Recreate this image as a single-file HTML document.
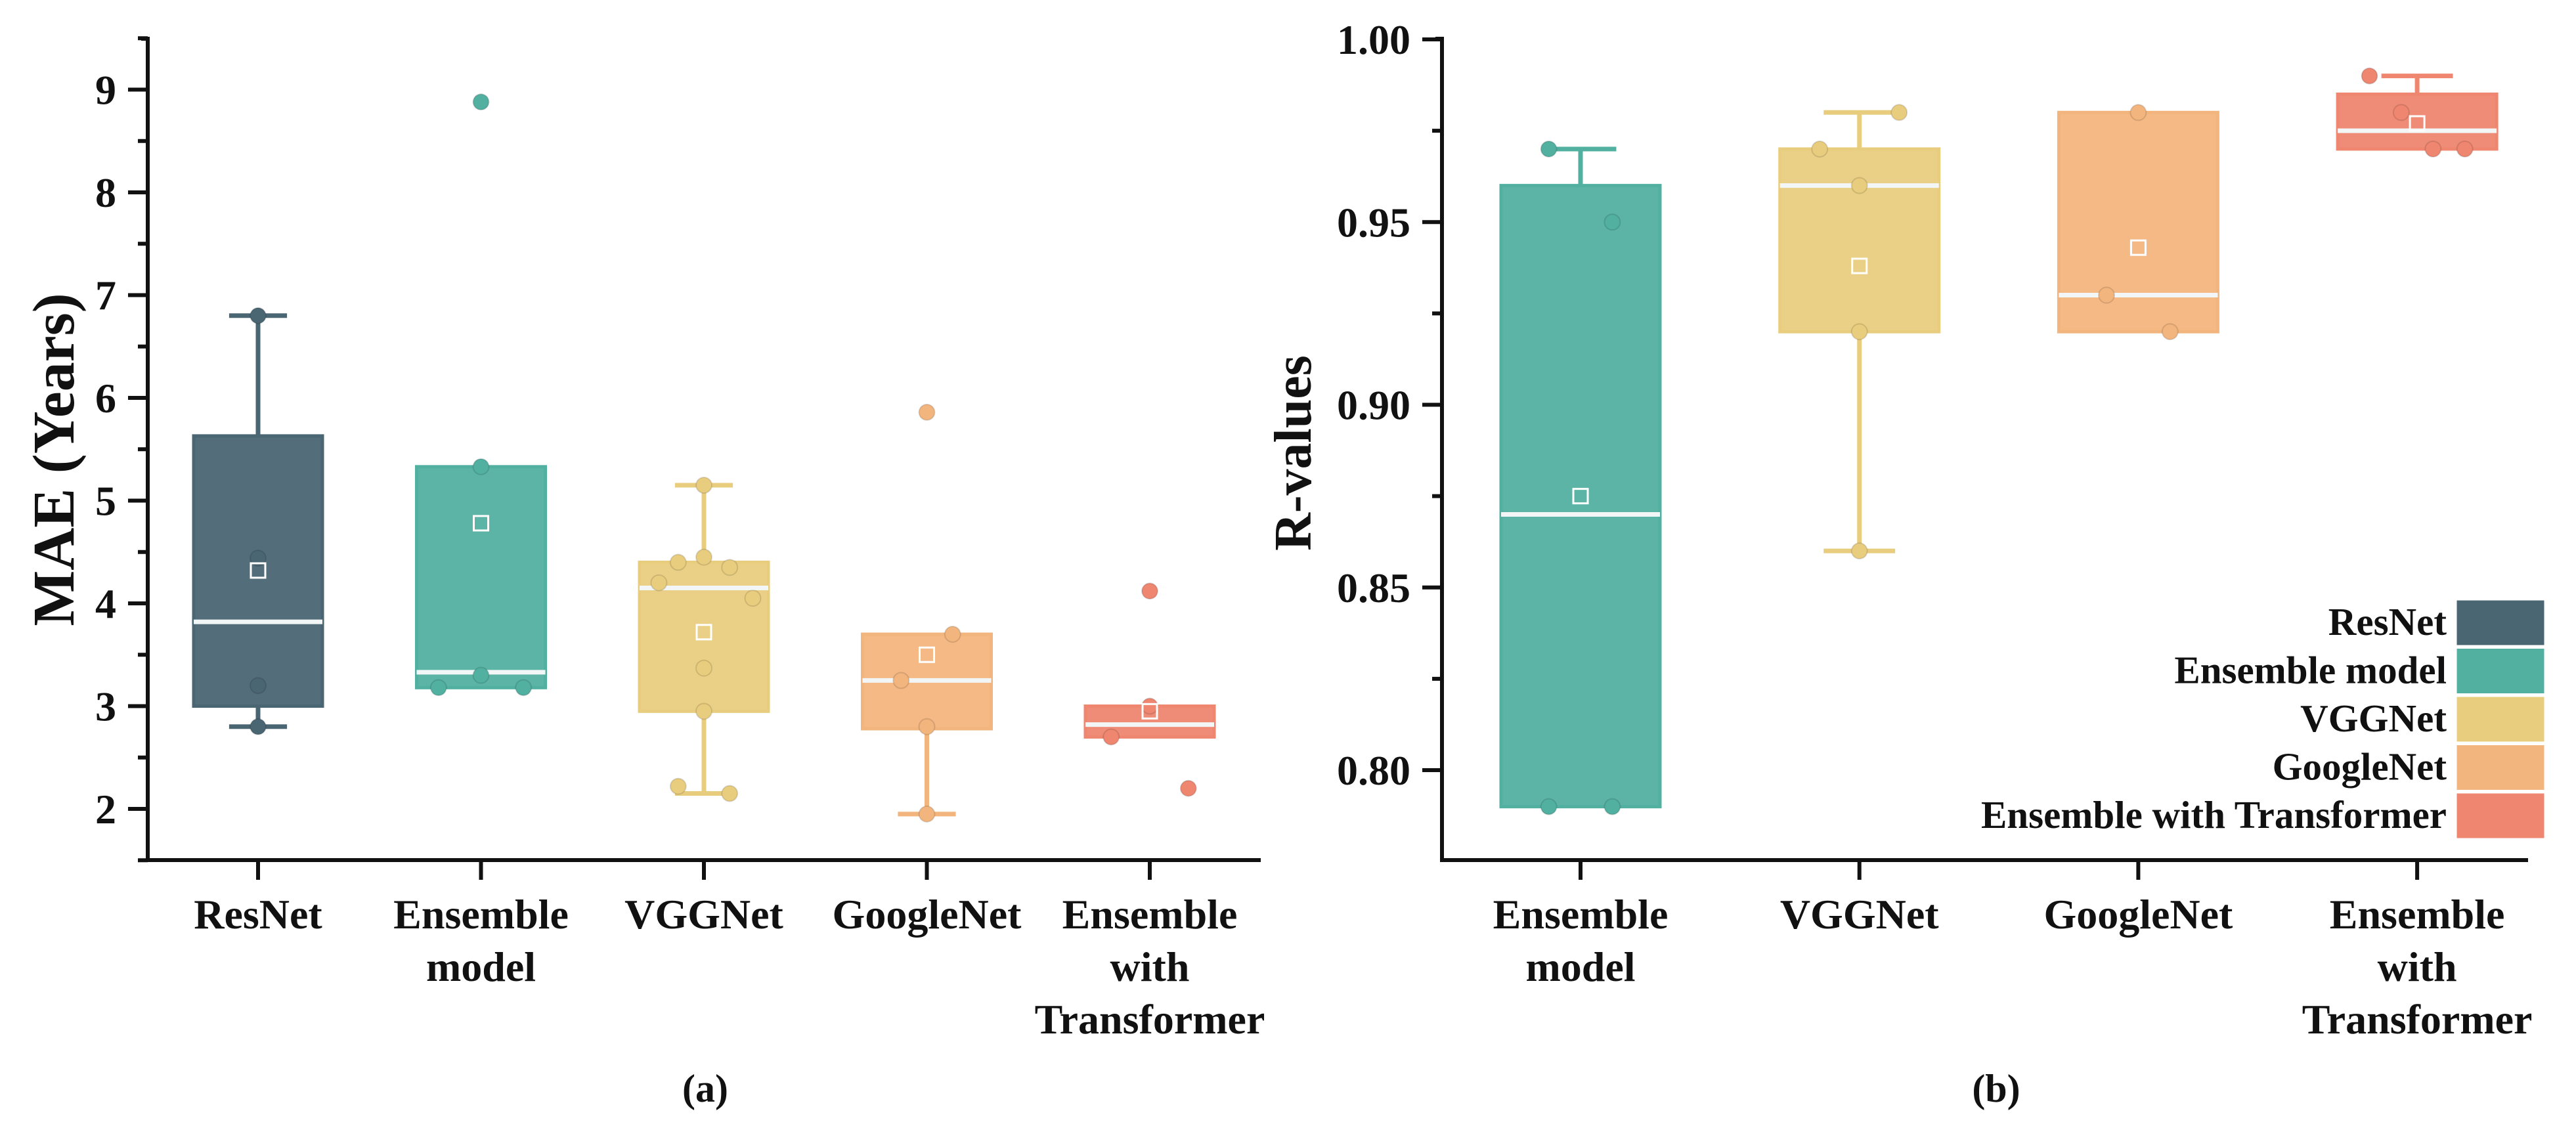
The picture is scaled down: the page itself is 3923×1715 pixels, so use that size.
<!DOCTYPE html>
<html><head><meta charset="utf-8"><style>
html,body{margin:0;padding:0;background:#fff;}
svg{display:block;}
text{font-family:"Liberation Serif",serif;font-weight:bold;fill:#111;}
</style></head><body>
<svg id="fig" width="3923" height="1715" viewBox="0 0 3923 1715"></svg>
<script>
// ---------- Data (a): MAE ----------
const catsA = ["ResNet","Ensemble model","VGGNet","GoogleNet","Ensemble with Transformer"];
const labelLinesA = [["ResNet"],["Ensemble","model"],["VGGNet"],["GoogleNet"],["Ensemble","with","Transformer"]];
const colorsA = ["#4a6673","#52b0a1","#e9cd7f","#f3b57e","#ee8670"];
const q1A = [3.0, 3.18, 2.95, 2.78, 2.7];
const q3A = [5.63, 5.33, 4.4, 3.7, 3.0];
const medA = [3.82, 3.33, 4.15, 3.25, 2.82];
const meanA = [4.32, 4.78, 3.72, 3.5, 2.95];
const whiskLoA = [2.8, null, 2.15, 1.95, null];
const whiskHiA = [6.8, null, 5.15, null, null];
const ptsA = [
  [6.8, 4.44, 3.2, 2.8],
  [8.88, 5.33, 3.3, 3.18, 3.18],
  [5.15, 4.45, 4.4, 4.35, 4.2, 4.05, 3.37, 2.95, 2.22, 2.15],
  [5.86, 3.7, 3.25, 2.8, 1.95],
  [4.12, 3.0, 2.7, 2.2]
];
const jitA = [
  [0,0,0,0],[0,0,0,-0.33,0.33],[0,0,-0.2,0.2,-0.35,0.38,0,0,-0.2,0.2],[0,0.2,-0.2,0,0],[0,0,-0.3,0.3]
];
const ticksA = [2,3,4,5,6,7,8,9];

// ---------- Data (b): R-values ----------
const catsB = ["Ensemble model","VGGNet","GoogleNet","Ensemble with Transformer"];
const labelLinesB = [["Ensemble","model"],["VGGNet"],["GoogleNet"],["Ensemble","with","Transformer"]];
const colorsB = ["#52b0a1","#e9cd7f","#f3b57e","#ee8670"];
const q1B = [0.79, 0.92, 0.92, 0.97];
const q3B = [0.96, 0.97, 0.98, 0.985];
const medB = [0.87, 0.96, 0.93, 0.975];
const meanB = [0.875, 0.938, 0.943, 0.977];
const whiskLoB = [null, 0.86, null, null];
const whiskHiB = [0.97, 0.98, null, 0.99];
const ptsB = [[0.97,0.95,0.79,0.79],[0.98,0.97,0.96,0.92,0.86],[0.98,0.93,0.92],[0.99,0.98,0.97,0.97]];
const jitB = [[-0.2,0.2,-0.2,0.2],[0.25,-0.25,0,0,0],[0,-0.2,0.2],[-0.3,-0.1,0.1,0.3]];
const ticksB = [0.80,0.85,0.90,0.95,1.00];
const legendNames = ["ResNet","Ensemble model","VGGNet","GoogleNet","Ensemble with Transformer"];
const legendColors = ["#4a6673","#52b0a1","#e9cd7f","#f3b57e","#ee8670"];

const NS="http://www.w3.org/2000/svg";
const svg=document.getElementById('fig');
function mk(tag,attrs,parent){const e=document.createElementNS(NS,tag);for(const k in attrs)e.setAttribute(k,attrs[k]);(parent||svg).appendChild(e);return e;}

function drawPanel(cfg){
  const g=mk('g',{});
  
  
  const y=v=>cfg.y0-(v-cfg.v0)*cfg.ppu;
  const x=i=>cfg.c0+i*cfg.step;
  const ax=mk('path',{d:`M${cfg.ax-10},${cfg.top} H${cfg.ax} V${cfg.bottom} H${cfg.right}`,fill:'none',stroke:'#111','stroke-width':6},g);
  
  
  cfg.ticks.forEach((t,i)=>{
    mk('line',{x1:cfg.ax-30,x2:cfg.ax,y1:y(t),y2:y(t),stroke:'#111','stroke-width':6},g);
    const tx=mk('text',{x:cfg.ax-48,y:y(t)+22,'text-anchor':'end','font-size':64},g);
    tx.textContent=cfg.fmt(t);
    
    
  });
  cfg.minor.forEach(t=>{
    mk('line',{x1:cfg.ax-15,x2:cfg.ax,y1:y(t),y2:y(t),stroke:'#111','stroke-width':6},g);
  });
  const yt=mk('text',{x:0,y:0,'text-anchor':'middle','font-size':cfg.titleSize,transform:`translate(${cfg.titleX},${cfg.titleY}) rotate(-90)`},g);
  yt.textContent=cfg.title;
  
  
  cfg.cats.forEach((c,i)=>{
    const cx=x(i), col=cfg.colors[i], hw=cfg.bw/2;
    const bg=mk('g',{},g);
    
    
    mk('line',{x1:cx,x2:cx,y1:cfg.bottom,y2:cfg.bottom+30,stroke:'#111','stroke-width':6},g);
    if(cfg.wHi[i]!=null){
      mk('line',{x1:cx,x2:cx,y1:y(cfg.q3[i]),y2:y(cfg.wHi[i]),stroke:col,'stroke-width':7},bg);
      mk('line',{x1:cx-hw*0.45,x2:cx+hw*0.45,y1:y(cfg.wHi[i]),y2:y(cfg.wHi[i]),stroke:col,'stroke-width':7},bg);
    }
    if(cfg.wLo[i]!=null){
      mk('line',{x1:cx,x2:cx,y1:y(cfg.q1[i]),y2:y(cfg.wLo[i]),stroke:col,'stroke-width':7},bg);
      mk('line',{x1:cx-hw*0.45,x2:cx+hw*0.45,y1:y(cfg.wLo[i]),y2:y(cfg.wLo[i]),stroke:col,'stroke-width':7},bg);
    }
    mk('rect',{x:cx-hw,y:y(cfg.q3[i]),width:cfg.bw,height:y(cfg.q1[i])-y(cfg.q3[i]),fill:col,stroke:col,'stroke-width':5,'fill-opacity':0.95},bg);
    mk('line',{x1:cx-hw,x2:cx+hw,y1:y(cfg.med[i]),y2:y(cfg.med[i]),stroke:'#f2f6f6','stroke-width':7},bg);
    cfg.pts[i].forEach((p,j)=>{
      const d=mk('circle',{cx:cx+cfg.jit[i][j]*cfg.bw,cy:y(p),r:12,fill:col,stroke:'rgba(0,0,0,0.12)','stroke-width':2},bg);
      
      
    });
    mk('rect',{x:cx-11,y:y(cfg.mean[i])-11,width:22,height:22,fill:'none',stroke:'#fff','stroke-width':3},bg);
    cfg.lines[i].forEach((ln,k)=>{
      const t=mk('text',{x:cx,y:1414+k*80,'text-anchor':'middle','font-size':64},g);
      t.textContent=ln;
      
      
    });
  });
  const cap=mk('text',{x:cfg.capX,y:1678,'text-anchor':'middle','font-size':60},g);
  cap.textContent=cfg.caption;
  
  
}

const minorA=[];for(let v=1.5;v<=9.5;v+=1)minorA.push(v);
drawPanel({name:'chart-mae',cats:catsA,lines:labelLinesA,colors:colorsA,q1:q1A,q3:q3A,med:medA,mean:meanA,wLo:whiskLoA,wHi:whiskHiA,pts:ptsA,jit:jitA,
  ticks:ticksA,minor:minorA,fmt:t=>String(t),v0:2,y0:1232,ppu:156.5,ax:225,top:59,bottom:1310,right:1920,c0:393,step:339.5,bw:196,
  title:'MAE (Years)',titleSize:90,titleX:112,titleY:700,caption:'(a)',capX:1074});
const minorB=[0.825,0.875,0.925,0.975];
drawPanel({name:'chart-r-values',cats:catsB,lines:labelLinesB,colors:colorsB,q1:q1B,q3:q3B,med:medB,mean:meanB,wLo:whiskLoB,wHi:whiskHiB,pts:ptsB,jit:jitB,
  ticks:ticksB,minor:minorB,fmt:t=>t.toFixed(2),v0:0.80,y0:1173,ppu:5565,ax:2196,top:59,bottom:1310,right:3850,c0:2407,step:424.7,bw:242,
  title:'R-values',titleSize:80,titleX:1996,titleY:690,caption:'(b)',capX:3040});

const lg=mk('g',{});


legendNames.forEach((n,i)=>{
  const yy=913+i*73.5;
  const e=mk('g',{},lg);
  
  
  mk('rect',{x:3740,y:yy,width:136,height:71,fill:legendColors[i],stroke:'#fff','stroke-width':3},e);
  const t=mk('text',{x:3726,y:yy+54,'text-anchor':'end','font-size':59},e);
  t.textContent=n;
});
</script>
</body></html>
